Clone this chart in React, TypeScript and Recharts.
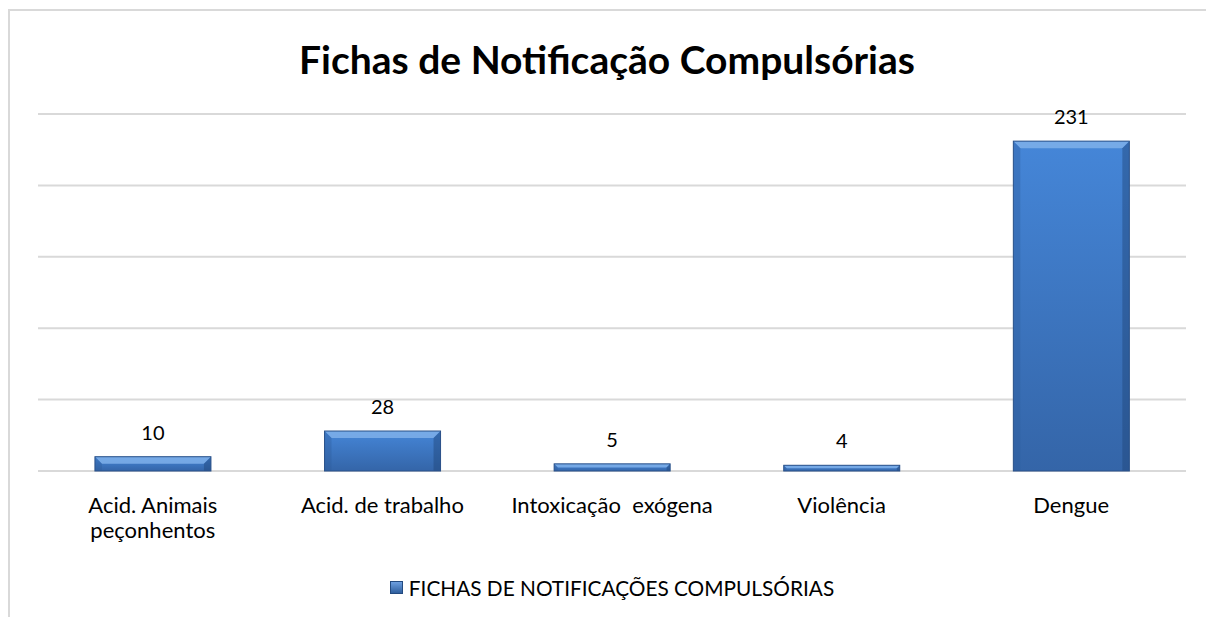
import { BarChart, Bar, XAxis, YAxis, CartesianGrid, Legend, LabelList } from 'recharts';

const categories = ['Acid. Animais peçonhentos', 'Acid. de trabalho', 'Intoxicação  exógena', 'Violência', 'Dengue'];
const fichas = [10, 28, 5, 4, 231];
const yTicks = [0, 50, 100, 150, 200, 250];

const seriesName = 'FICHAS DE NOTIFICAÇÕES COMPULSÓRIAS';
const data = categories.map((name, i) => ({ name, fichas: fichas[i] }));

const FONT = 'Lato, "Open Sans", sans-serif';

// Excel-like bevelled bar
const BevelBar = (props: any) => {
  const { x, y, width, height } = props;
  if (!height || height <= 0) return null;
  const b = Math.min(7, height / 2, width / 2);
  const r = x + width;
  const btm = y + height;
  return (
    <g>
      <rect x={x} y={y} width={width} height={height} fill="url(#barFill)" />
      <polygon points={`${x},${y} ${r},${y} ${r - b},${y + b} ${x + b},${y + b}`} fill="#7fb0ea" opacity={0.85} />
      <polygon points={`${x},${y} ${x + b},${y + b} ${x + b},${btm} ${x},${btm}`} fill="#2d5b9a" opacity={0.35} />
      <polygon points={`${r},${y} ${r - b},${y + b} ${r - b},${btm} ${r},${btm}`} fill="#1f4478" opacity={0.45} />
      <rect x={x} y={y} width={width} height={height} fill="none" stroke="#2a5189" strokeWidth={1} />
    </g>
  );
};

// greedy word wrap, ~22 chars per line
const wrap = (s: string, max = 22) => {
  if (s.length <= max) return [s];
  const lines: string[] = [];
  let cur = '';
  s.split(' ').forEach((w) => {
    if (cur && (cur + ' ' + w).length > max) { lines.push(cur); cur = w; }
    else cur = cur ? cur + ' ' + w : w;
  });
  if (cur) lines.push(cur);
  return lines;
};

const CatTick = ({ x, y, payload }: any) => (
  <text x={x} y={y + 34} textAnchor="middle" fontSize={22} fontFamily={FONT} fill="#000" style={{ whiteSpace: 'pre' }}>
    {wrap(payload.value).map((line, i) => (
      <tspan key={i} x={x} dy={i === 0 ? 0 : 25}>{line}</tspan>
    ))}
  </text>
);

const LegendBox = () => (
  <div style={{ display: 'flex', justifyContent: 'center', alignItems: 'center', paddingTop: 24, gap: 6,
    fontFamily: FONT, fontSize: 20.8, color: '#000' }}>
    <span style={{ width: 11, height: 11, display: 'inline-block',
      background: 'linear-gradient(#6d9fe0, #2f5f9e)', border: '1px solid #234a80' }} />
    <span>{seriesName}</span>
  </div>
);

export default function App() {
  return (
    <div style={{ position: 'absolute', left: 0, top: 0, width: 1206, height: 617, background: '#fff', overflow: 'hidden' }}>
      <div style={{ position: 'absolute', left: 8, top: 9, width: 1198, height: 608,
        borderTop: '2px solid #d9d9d9', borderLeft: '2px solid #d9d9d9' }} />
      <div style={{ position: 'absolute', left: 8, width: 1198, top: 36, textAlign: 'center',
        fontFamily: FONT, fontWeight: 700, fontSize: 39, color: '#000' }}>
        Fichas de Notificação Compulsórias
      </div>
      <BarChart width={1206} height={617} data={data} barCategoryGap="24.8%"
        margin={{ top: 114, right: 20, left: 38, bottom: 0 }} style={{ position: 'absolute', left: 0, top: 0 }}>
        <defs>
          <linearGradient id="barFill" x1="0" y1="0" x2="0" y2="1">
            <stop offset="0%" stopColor="#4586d8" />
            <stop offset="100%" stopColor="#3465a8" />
          </linearGradient>
        </defs>
        <CartesianGrid vertical={false} stroke="#d9d9d9" strokeWidth={2} />
        <XAxis dataKey="name" axisLine={false} tickLine={false} height={80} interval={0} tick={<CatTick />} />
        <YAxis hide domain={[0, 250]} ticks={yTicks} />
        <Legend verticalAlign="bottom" wrapperStyle={{ height: 66 }} content={<LegendBox />} />
        <Bar dataKey="fichas" name={seriesName} shape={<BevelBar />} isAnimationActive={false}>
          <LabelList dataKey="fichas" position="top" offset={17} fontSize={20} fontFamily={FONT} fill="#000" />
        </Bar>
      </BarChart>
    </div>
  );
}
